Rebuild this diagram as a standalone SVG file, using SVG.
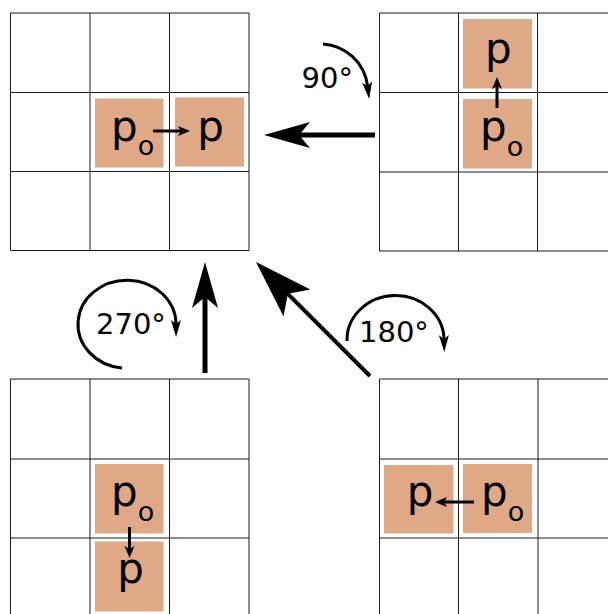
<svg xmlns="http://www.w3.org/2000/svg" width="608" height="614" viewBox="0 0 608 614">
<style>
.grid{fill:none;stroke:#1a1a1a;stroke-width:1}
.box{fill:#dfa987}
.lbl{font-family:"DejaVu Sans",sans-serif;font-size:42px;fill:#000}
.sub{font-size:27px}
.deg{font-family:"DejaVu Sans",sans-serif;font-size:29px;fill:#000}
.sm{stroke:#000;stroke-width:3;fill:none;marker-end:url(#smallHead)}
.big{stroke:#000;stroke-width:5;fill:none;marker-end:url(#bigHead)}
.rot{stroke:#000;stroke-width:3;fill:none;marker-end:url(#rotHead)}
</style>
<defs>
<marker id="smallHead" markerUnits="userSpaceOnUse" markerWidth="14" markerHeight="12" viewBox="0 -6 14 12" refX="3" refY="0" orient="auto" overflow="visible"><path d="M0,-5 L12,0 L0,5 L3,0 Z" fill="#000"/></marker>
<marker id="bigHead" markerUnits="userSpaceOnUse" markerWidth="48" markerHeight="28" viewBox="0 -14 48 28" refX="11" refY="0" orient="auto" overflow="visible"><path d="M0,-13 L46,0 L0,13 L11,0 Z" fill="#000"/></marker>
<marker id="diagHead" markerUnits="userSpaceOnUse" markerWidth="60" markerHeight="40" viewBox="0 -20 60 40" refX="13" refY="0" orient="auto" overflow="visible"><path d="M0,-19 L58,0 L0,19 L13,0 Z" fill="#000"/></marker>
<marker id="rotHead" markerUnits="userSpaceOnUse" markerWidth="18" markerHeight="12" viewBox="0 -6 18 12" refX="4" refY="0" orient="auto" overflow="visible"><path d="M0,-5 L17,0 L0,5 L4,0 Z" fill="#000"/></marker>
</defs>

<g id="grid-result">
<path class="grid" d="M10.5,13 H249 V250.5 H10.5 Z M90,13 V250.5 M169.5,13 V250.5 M10.5,92.5 H249 M10.5,171.5 H249"/>
<rect class="box" x="95" y="98.5" width="68.5" height="69"/>
<rect class="box" x="175" y="97.5" width="69" height="69"/>
<text class="lbl" x="111" y="141">p<tspan class="sub" dy="14">o</tspan></text>
<text class="lbl" x="210.5" y="141" text-anchor="middle">p</text>
<path class="sm" d="M153,131 H181"/>
</g>

<g id="grid-90">
<path class="grid" d="M379.5,13 H617 V251 H379.5 Z M458.5,13 V251 M537.5,13 V251 M379.5,92.5 H617 M379.5,172 H617"/>
<rect class="box" x="463" y="19" width="69" height="69.5"/>
<rect class="box" x="463" y="99" width="69" height="69.5"/>
<text class="lbl" x="498.3" y="63" text-anchor="middle">p</text>
<text class="lbl" x="480" y="141">p<tspan class="sub" dy="15">o</tspan></text>
<path class="sm" d="M497,108 V86"/>
</g>

<g id="grid-270">
<path class="grid" d="M10.5,379 H249 V617 H10.5 Z M90,379 V617 M169.5,379 V617 M10.5,459 H249 M10.5,538 H249"/>
<rect class="box" x="95" y="464" width="68.5" height="69.5"/>
<rect class="box" x="95" y="541.5" width="68.5" height="70"/>
<text class="lbl" x="111" y="506">p<tspan class="sub" dy="15">o</tspan></text>
<text class="lbl" x="130.7" y="583" text-anchor="middle">p</text>
<path class="sm" d="M129.5,527 V549"/>
</g>

<g id="grid-180">
<path class="grid" d="M379.5,379 H617 V617 H379.5 Z M458.5,379 V617 M538,379 V617 M379.5,459 H617 M379.5,538 H617"/>
<rect class="box" x="384" y="465" width="69.5" height="68.5"/>
<rect class="box" x="463" y="464" width="69" height="69"/>
<text class="lbl" x="420" y="506" text-anchor="middle">p</text>
<text class="lbl" x="481" y="506">p<tspan class="sub" dy="15">o</tspan></text>
<path class="sm" d="M474,502 H444"/>
</g>

<g id="connectors">
<path class="big" d="M375,135 H299"/>
<path class="big" d="M205,373 V297"/>
<path d="M370,376 L287.8,293.8" stroke="#000" stroke-width="4" fill="none" marker-end="url(#diagHead)"/>
<path class="rot" d="M323,44 A48,48 0 0 1 367.6,86"/>
<path class="rot" d="M122,368 A49,44 0 1 1 176,324"/>
<path class="rot" d="M347,341 A48,44 0 0 1 444,339"/>
<text class="deg" x="301.5" y="88">90°</text>
<text class="deg" x="96" y="334">270°</text>
<text class="deg" x="359" y="342">180°</text>
</g>
</svg>
